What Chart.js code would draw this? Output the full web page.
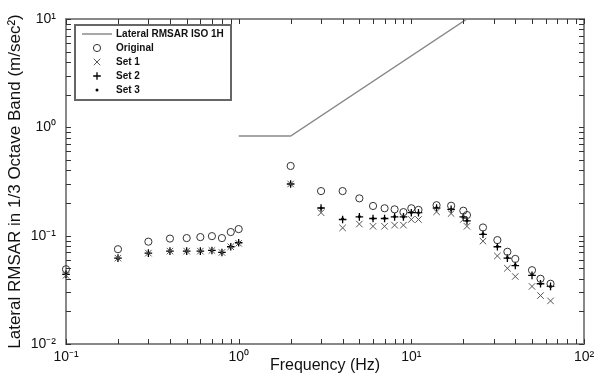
<!DOCTYPE html>
<html>
<head>
<meta charset="utf-8">
<script src="https://cdn.jsdelivr.net/npm/chart.js@4/dist/chart.umd.min.js"></script>
<style>
  html, body { margin: 0; padding: 0; background: #fff; }
</style>
</head>
<body>
<canvas id="rmsar_chart"></canvas>
<script>
// one-third octave centre frequencies (Hz)
const freqs = [0.1, 0.2, 0.3, 0.4, 0.5, 0.6, 0.7, 0.8, 0.9, 1.0,
               2, 3, 4, 5, 6, 7, 8, 9, 10, 11,
               14, 17, 20, 21, 26, 31.5, 36, 40, 50, 56, 64];

const original = [0.049, 0.075, 0.088, 0.094, 0.095, 0.097, 0.099, 0.095, 0.108, 0.115,
                  0.44, 0.258, 0.258, 0.221, 0.188, 0.179, 0.175, 0.165, 0.179, 0.173,
                  0.191, 0.189, 0.17, 0.155, 0.119, 0.091, 0.071, 0.061, 0.048, 0.040, 0.036];

const set1 = [0.043, 0.062, 0.069, 0.072, 0.072, 0.072, 0.073, 0.070, 0.079, 0.085,
              0.30, 0.163, 0.118, 0.128, 0.122, 0.122, 0.125, 0.125, 0.141, 0.141,
              0.166, 0.16, 0.141, 0.122, 0.089, 0.065, 0.050, 0.042, 0.034, 0.028, 0.025];

const set2 = [0.044, 0.062, 0.069, 0.072, 0.072, 0.072, 0.073, 0.070, 0.079, 0.086,
              0.30, 0.18, 0.141, 0.149, 0.144, 0.144, 0.149, 0.149, 0.163, 0.163,
              0.18, 0.175, 0.149, 0.137, 0.103, 0.079, 0.062, 0.053, 0.043, 0.036, 0.034];

const set3 = [0.044, 0.062, 0.069, 0.072, 0.072, 0.072, 0.073, 0.070, 0.079, 0.086,
              0.30, 0.18, 0.143, 0.150, 0.144, 0.145, 0.150, 0.149, 0.164, 0.163,
              0.181, 0.175, 0.150, 0.138, 0.104, 0.080, 0.063, 0.054, 0.044, 0.036, 0.034];

// ISO 2631 lateral limit curve
const isoFreqs = [1, 2, 21];
const isoLimit = [0.83, 0.83, 10];

const xRange = [0.1, 100];
const yRange = [0.01, 10];

const FONT = '"Liberation Sans", Arial, sans-serif';
const sup = { '-': '⁻', '0': '⁰', '1': '¹', '2': '²', '3': '³' };

function decadeLabel(v) {
  const e = Math.log10(v);
  if (Math.abs(e - Math.round(e)) > 1e-6) return '';
  return '10' + String(Math.round(e)).split('').map(c => sup[c]).join('');
}

// 1..9 x 10^n ticks, like matlab minor ticks
function logTicks(scale) {
  const t = [];
  const lo = Math.round(Math.log10(scale.min));
  const hi = Math.round(Math.log10(scale.max));
  for (let e = lo; e < hi; e++) {
    for (let s = 1; s < 10; s++) t.push({ value: s * Math.pow(10, e), major: s === 1 });
  }
  t.push({ value: Math.pow(10, hi), major: true });
  scale.ticks = t;
}

// fixed box sizes so the plot area lands where the reference has it
function fixBox(size) {
  return s => {
    if (s.isHorizontal()) s.height = size; else s.width = size;
    s.paddingLeft = 0; s.paddingRight = 0; s.paddingTop = 0; s.paddingBottom = 0;
  };
}

function pts(xs, ys) {
  return xs.map((x, i) => ({ x: x, y: ys[i] }));
}

const gridOpts = { display: false, drawTicks: false };
const borderOpts = { display: true, color: '#888', width: 2 };

// matlab style inward tick marks on all four sides of the box
const inwardTicks = {
  id: 'inwardTicks',
  afterDraw(chart) {
    const ctx = chart.ctx;
    const a = chart.chartArea;
    const len = 5;
    const sx = chart.scales.x, sy = chart.scales.y;
    ctx.save();
    ctx.strokeStyle = '#333';
    ctx.lineWidth = 1;
    ctx.beginPath();
    sx.ticks.forEach(t => {
      const px = Math.round(sx.getPixelForValue(t.value)) + 0.5;
      ctx.moveTo(px, a.bottom); ctx.lineTo(px, a.bottom - len);
      ctx.moveTo(px, a.top); ctx.lineTo(px, a.top + len);
    });
    sy.ticks.forEach(t => {
      const py = Math.round(sy.getPixelForValue(t.value)) + 0.5;
      ctx.moveTo(a.left, py); ctx.lineTo(a.left + len, py);
      ctx.moveTo(a.right, py); ctx.lineTo(a.right - len, py);
    });
    ctx.stroke();
    ctx.restore();
  }
};

// legend box drawn inside the plot, top left
const insetLegend = {
  id: 'insetLegend',
  afterDraw(chart) {
    const ctx = chart.ctx;
    const area = chart.chartArea;
    const x0 = area.left + 9, y0 = area.top + 6, w = 156, h = 75;
    ctx.save();
    ctx.fillStyle = '#fff';
    ctx.fillRect(x0, y0, w, h);
    ctx.strokeStyle = '#666';
    ctx.lineWidth = 2;
    ctx.strokeRect(x0, y0, w, h);
    ctx.font = 'bold 10px ' + FONT;
    ctx.textBaseline = 'middle';
    chart.data.datasets.forEach((ds, i) => {
      const y = y0 + 9 + i * 14;
      const cx = x0 + 22;
      ctx.strokeStyle = ds.borderColor;
      ctx.fillStyle = ds.borderColor;
      ctx.lineWidth = ds.borderWidth;
      ctx.beginPath();
      if (ds.showLine) {
        ctx.moveTo(x0 + 7, y);
        ctx.lineTo(x0 + 37, y);
        ctx.stroke();
      } else if (ds.pointStyle === 'crossRot') {
        const r = ds.pointRadius * 0.7;
        ctx.moveTo(cx - r, y - r); ctx.lineTo(cx + r, y + r);
        ctx.moveTo(cx - r, y + r); ctx.lineTo(cx + r, y - r);
        ctx.stroke();
      } else if (ds.pointStyle === 'cross') {
        const r = ds.pointRadius;
        ctx.moveTo(cx - r, y); ctx.lineTo(cx + r, y);
        ctx.moveTo(cx, y - r); ctx.lineTo(cx, y + r);
        ctx.stroke();
      } else if (ds.pointBorderWidth === 0) {
        ctx.arc(cx, y, ds.pointRadius, 0, Math.PI * 2);
        ctx.fill();
      } else {
        ctx.arc(cx, y, ds.pointRadius, 0, Math.PI * 2);
        ctx.stroke();
      }
      ctx.fillStyle = '#111';
      ctx.fillText(ds.label, x0 + 41, y + 0.5);
    });
    ctx.restore();
  }
};

const canvas = document.getElementById('rmsar_chart');
canvas.width = 597;
canvas.height = 383;
const ctx = canvas.getContext('2d');

const chart = new Chart(ctx, {
  type: 'scatter',
  data: {
    datasets: [
      {
        label: 'Lateral RMSAR ISO 1H',
        data: pts(isoFreqs, isoLimit),
        showLine: true,
        borderColor: '#8a8a8a',
        borderWidth: 1.5,
        pointRadius: 0,
        fill: false
      },
      {
        label: 'Original',
        data: pts(freqs, original),
        pointStyle: 'circle',
        pointRadius: 3.6,
        borderColor: '#333',
        backgroundColor: 'rgba(0,0,0,0)',
        borderWidth: 1,
        pointBorderWidth: 1,
        clip: false
      },
      {
        label: 'Set 1',
        data: pts(freqs, set1),
        pointStyle: 'crossRot',
        pointRadius: 4.6,
        borderColor: '#555',
        backgroundColor: '#555',
        borderWidth: 1,
        pointBorderWidth: 1,
        clip: false
      },
      {
        label: 'Set 2',
        data: pts(freqs, set2),
        pointStyle: 'cross',
        pointRadius: 3.8,
        borderColor: '#000',
        backgroundColor: '#000',
        borderWidth: 1.3,
        pointBorderWidth: 1.3,
        clip: false
      },
      {
        label: 'Set 3',
        data: pts(freqs, set3),
        pointStyle: 'circle',
        pointRadius: 1.5,
        borderColor: '#000',
        backgroundColor: '#000',
        borderWidth: 0,
        pointBorderWidth: 0,
        clip: false
      }
    ]
  },
  options: {
    responsive: false,
    animation: false,
    layout: { padding: 0 },
    plugins: {
      legend: { display: false },
      tooltip: { enabled: false }
    },
    scales: {
      x: {
        type: 'logarithmic',
        position: 'bottom',
        min: xRange[0],
        max: xRange[1],
        afterBuildTicks: logTicks,
        afterFit: fixBox(39),
        grid: gridOpts,
        border: borderOpts,
        ticks: {
          autoSkip: false,
          maxRotation: 0,
          padding: 5,
          color: '#111',
          font: { family: FONT, size: 14 },
          callback: v => decadeLabel(v)
        },
        title: {
          display: true,
          text: 'Frequency (Hz)',
          color: '#111',
          font: { family: FONT, size: 16 },
          padding: { top: 0, bottom: 8 }
        }
      },
      y: {
        type: 'logarithmic',
        position: 'left',
        min: yRange[0],
        max: yRange[1],
        afterBuildTicks: logTicks,
        afterFit: fixBox(66),
        grid: gridOpts,
        border: borderOpts,
        ticks: {
          autoSkip: false,
          padding: 10,
          color: '#111',
          font: { family: FONT, size: 14 },
          callback: v => decadeLabel(v)
        },
        title: {
          display: true,
          text: 'Lateral RMSAR in 1/3 Octave Band (m/sec²)',
          color: '#111',
          font: { family: FONT, size: 17 },
          padding: { top: 5, bottom: 0 }
        }
      },
      x2: {
        type: 'logarithmic',
        position: 'top',
        min: xRange[0],
        max: xRange[1],
        afterBuildTicks: logTicks,
        afterFit: fixBox(19),
        grid: gridOpts,
        border: borderOpts,
        ticks: { display: false }
      },
      y2: {
        type: 'logarithmic',
        position: 'right',
        min: yRange[0],
        max: yRange[1],
        afterBuildTicks: logTicks,
        afterFit: fixBox(13),
        grid: gridOpts,
        border: borderOpts,
        ticks: { display: false }
      }
    }
  },
  plugins: [inwardTicks, insetLegend]
});
</script>
</body>
</html>
